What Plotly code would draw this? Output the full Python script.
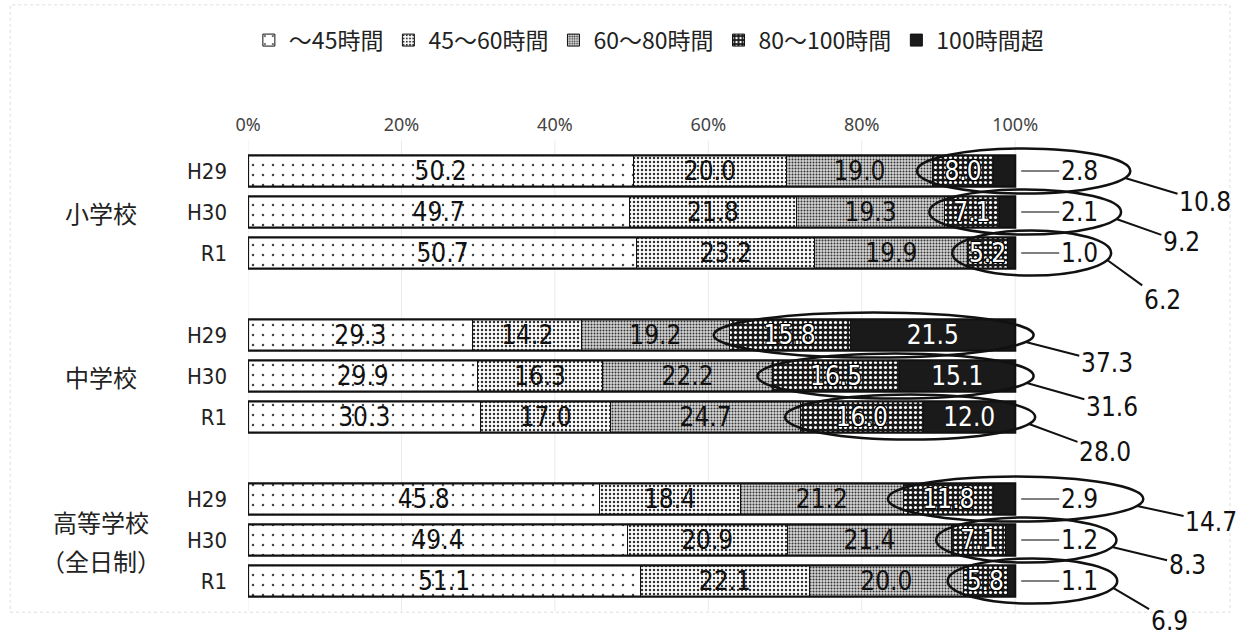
import math
import plotly.graph_objects as go

# ---------------- data ----------------
groups = ["小学校", "中学校", "高等学校"]
years = ["H29", "H30", "R1"]
series_names = ["～45時間", "45～60時間", "60～80時間", "80～100時間", "100時間超"]
x_ticks = [0, 20, 40, 60, 80, 100]
x_tick_labels = ["0%", "20%", "40%", "60%", "80%", "100%"]

s_upto45 = [50.2, 49.7, 50.7, 29.3, 29.9, 30.3, 45.8, 49.4, 51.1]
s_45_60 = [20.0, 21.8, 23.2, 14.2, 16.3, 17.0, 18.4, 20.9, 22.1]
s_60_80 = [19.0, 19.3, 19.9, 19.2, 22.2, 24.7, 21.2, 21.4, 20.0]
s_80_100 = [8.0, 7.1, 5.2, 15.8, 16.5, 16.0, 11.8, 7.1, 5.8]
s_over100 = [2.8, 2.1, 1.0, 21.5, 15.1, 12.0, 2.9, 1.2, 1.1]

series = [s_upto45, s_45_60, s_60_80, s_80_100, s_over100]

# ---------------- style ----------------
NUM_FONT = "DejaVu Sans Condensed, Liberation Sans Narrow, Arial Narrow, sans-serif"
JP_FONT = "Noto Sans CJK JP, sans-serif"
OUTLINE = "1px 1px 0 #000, -1px -1px 0 #000, 1px -1px 0 #000, -1px 1px 0 #000"
patterns = [
    dict(shape=".", bgcolor="white", fgcolor="#444444", size=10, solidity=0.05, fillmode="replace"),
    dict(shape=".", bgcolor="white", fgcolor="#333333", size=4, solidity=0.3, fillmode="replace"),
    dict(shape=".", bgcolor="#d6d6d6", fgcolor="#333333", size=3, solidity=0.35, fillmode="replace"),
    dict(shape=".", bgcolor="#1a1a1a", fgcolor="#ffffff", size=5, solidity=0.3, fillmode="replace"),
    dict(shape="", bgcolor="#1a1a1a", fgcolor="#1a1a1a", size=6, solidity=0.5, fillmode="replace"),
]
text_colors = ["#111111", "#111111", "#111111", "#ffffff", "#ffffff"]
text_shadows = ["none", "none", "none", OUTLINE, "none"]
ELLIPSE_RIGHT = [115.0, 113.8, 112.5, 102.4, 102.4, 102.6, 116.7, 113.2, 113.3]
SUM_OFFSETS = [(80, 24), (65, 23), (55, 40), (81, 21), (85, 24), (76, 28), (74, 16), (75, 18), (56, 33)]
BAR_W = 0.76
LABEL_SIZE = 26

# row positions on a numeric axis (3 rows per group, one empty slot between groups)
positions = [g * 4 + i for g in range(len(groups)) for i in range(len(years))]
row_labels = [y for _ in groups for y in years]

fig = go.Figure()
for k, (name, vals) in enumerate(zip(series_names, series)):
    texts = []
    for v in vals:
        if k == 4 and v < 5:
            texts.append("")
        else:
            texts.append(f"{v:.1f}")
    fig.add_trace(go.Bar(
        name=name,
        orientation="h",
        x=vals,
        y=positions,
        width=BAR_W,
        text=texts,
        textposition="inside",
        insidetextanchor="middle",
        textangle=0,
        textfont=dict(family=NUM_FONT, size=LABEL_SIZE, color=text_colors[k], shadow=text_shadows[k]),
        marker=dict(color=patterns[k]["bgcolor"], pattern=patterns[k],
                    line=dict(color="#111111", width=1)),
        hoverinfo="skip",
    ))

shapes = []
annotations = []

# faint gridlines
for t in x_ticks:
    shapes.append(dict(type="line", xref="x", yref="y", x0=t, x1=t, y0=-0.75, y1=10.75,
                       line=dict(color="#ebebeb", width=1), layer="below"))

# faint outer frame
shapes.append(dict(type="rect", xref="paper", yref="paper",
                   x0=-0.248, x1=1.024, y0=0.046, y1=1.273,
                   line=dict(color="#dddddd", width=1, dash="dot"), layer="below"))

for r, p in enumerate(positions):
    total = s_upto45[r] + s_45_60[r] + s_60_80[r] + s_80_100[r] + s_over100[r]
    # thick top / bottom border of each bar
    shapes.append(dict(type="rect", xref="x", yref="y", x0=0, x1=min(total, 100),
                       y0=p - BAR_W / 2, y1=p + BAR_W / 2,
                       line=dict(color="#111111", width=2.2), layer="above"))

for r, p in enumerate(positions):
    start = s_upto45[r] + s_45_60[r] + s_60_80[r]
    x0 = start - 2.0
    x1 = ELLIPSE_RIGHT[r]
    hy = 0.55
    shapes.append(dict(type="circle", xref="x", yref="y", x0=x0, x1=x1, y0=p - hy, y1=p + hy,
                       line=dict(color="#111111", width=2.5), layer="above"))
    # outside label for small >100h values
    if s_over100[r] < 5:
        annotations.append(dict(x=100, y=p, xref="x", yref="y",
                                text=f"{s_over100[r]:.1f}", showarrow=True, arrowhead=0,
                                ax=64, ay=0, standoff=6, arrowwidth=1.5, arrowcolor="#555555",
                                font=dict(family=NUM_FONT, size=LABEL_SIZE, color="#111111")))
    # sum label with leader line
    cx = (x0 + x1) / 2
    a = (x1 - x0) / 2
    th = math.radians(18)
    tipx = cx + a * math.cos(th)
    tipy = p + hy * math.sin(th)
    ssum = s_80_100[r] + s_over100[r]
    ax, ay = SUM_OFFSETS[r]
    annotations.append(dict(x=tipx, y=tipy, xref="x", yref="y", text=f"{ssum:.1f}",
                            showarrow=True, arrowhead=0, ax=ax, ay=ay, standoff=0,
                            arrowwidth=2, arrowcolor="#111111",
                            font=dict(family=NUM_FONT, size=LABEL_SIZE, color="#111111")))

# group labels
group_label_y = [(1, "小学校"), (5, "中学校"), (8.55, "高等学校"), (9.5, "（全日制）")]
for yv, txt in group_label_y:
    annotations.append(dict(x=-0.153, y=yv, xref="paper", yref="y", text=txt, showarrow=False,
                            xanchor="center", yanchor="middle",
                            font=dict(family=JP_FONT, size=24, color="#222222")))

fig.update_layout(
    width=1239, height=637,
    barmode="stack",
    plot_bgcolor="white", paper_bgcolor="white",
    margin=dict(l=248, r=32, t=140, b=2),
    uniformtext=dict(minsize=LABEL_SIZE, mode="show"),
    xaxis=dict(side="top", range=[0, 125], tickvals=x_ticks, ticktext=x_tick_labels,
               showgrid=False, zeroline=False, showline=False, ticks="",
               ticklabelstandoff=4, automargin=False,
               tickfont=dict(family="Noto Sans, Liberation Sans, sans-serif", size=18, color="#444444")),
    yaxis=dict(range=[11.317, -0.756], tickvals=positions, ticktext=row_labels,
               showgrid=False, zeroline=False, showline=False, ticks="",
               ticklabelstandoff=20, automargin=False,
               tickfont=dict(family=NUM_FONT, size=22, color="#222222")),
    legend=dict(orientation="h", x=0.418, xanchor="center", yref="container", y=0.937,
                yanchor="middle",
                font=dict(family=JP_FONT, size=23, color="#222222"), traceorder="normal",
                itemwidth=30),
    shapes=shapes,
    annotations=annotations,
    showlegend=True,
)

fig.write_html("out.html", config={"displayModeBar": False},
               post_script="document.body.style.margin='0';document.body.style.overflow='hidden';")
